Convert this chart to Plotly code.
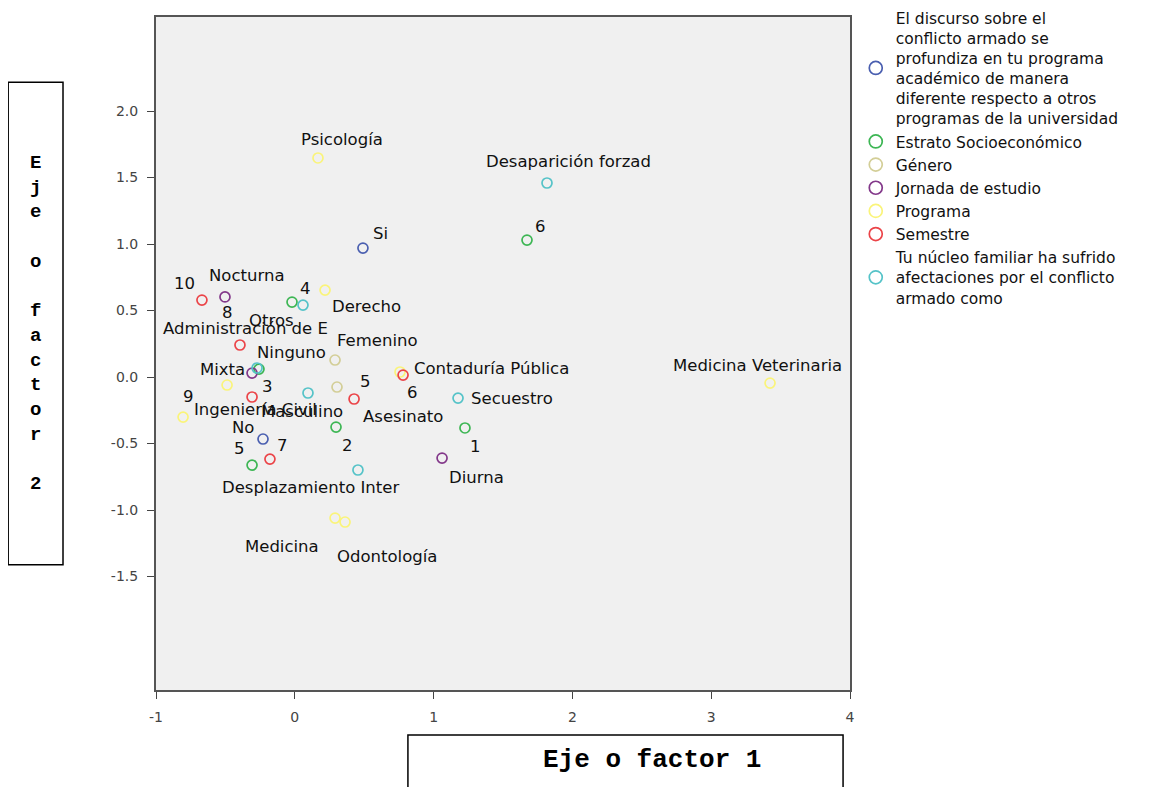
import plotly.graph_objects as go

# ---------------- data ----------------
discurso_labels = ["Si", "No"]
discurso_x = [0.491, -0.229]
discurso_y = [0.970, -0.466]

estrato_labels = ["1", "2", "3", "4", "5", "6"]
estrato_x = [1.226, 0.297, -0.258, -0.020, -0.308, 1.673]
estrato_y = [-0.383, -0.376, 0.060, 0.564, -0.662, 1.030]

genero_labels = ["Femenino", "Masculino"]
genero_x = [0.290, 0.304]
genero_y = [0.128, -0.075]

jornada_labels = ["Nocturna", "Diurna", "Mixta"]
jornada_x = [-0.503, 1.061, -0.308]
jornada_y = [0.602, -0.609, 0.030]

programa_labels = ["Psicología", "Derecho", "Administración de E", "Contaduría Pública",
                   "Ingeniería Civil", "Medicina", "Odontología", "Medicina Veterinaria"]
programa_x = [0.167, 0.218, -0.488, 0.758, -0.805, 0.290, 0.362, 3.424]
programa_y = [1.647, 0.654, -0.060, 0.038, -0.301, -1.060, -1.090, -0.045]

semestre_labels = ["10", "8", "9", "5", "6", "7"]
semestre_x = [-0.669, -0.395, -0.308, 0.427, 0.780, -0.179]
semestre_y = [0.579, 0.241, -0.150, -0.165, 0.015, -0.617]

nucleo_labels = ["Desaparición forzad", "Otros", "Ninguno", "Secuestro", "Asesinato",
                 "Desplazamiento Inter"]
nucleo_x = [1.817, 0.059, -0.272, 1.176, 0.095, 0.455]
nucleo_y = [1.459, 0.541, 0.068, -0.158, -0.120, -0.699]

series_names = [
    "El discurso sobre el<br>conflicto armado se<br>profundiza en tu programa<br>académico de manera<br>diferente respecto a otros<br>programas de la universidad",
    "Estrato Socioeconómico",
    "Género",
    "Jornada de estudio",
    "Programa",
    "Semestre",
    "Tu núcleo familiar ha sufrido<br>afectaciones por el conflicto<br>armado como",
]

x_ticks = [-1, 0, 1, 2, 3, 4]
x_ticktext = ["-1", "0", "1", "2", "3", "4"]
y_ticks = [-1.5, -1.0, -0.5, 0.0, 0.5, 1.0, 1.5, 2.0]
y_ticktext = ["-1.5", "-1.0", "-0.5", "0.0", "0.5", "1.0", "1.5", "2.0"]

x_title = "Eje o factor 1"
y_title = "Eje o factor 2"

# ---------------- styles ----------------
colors = ["#4A5FB0", "#3DB654", "#D3CE97", "#83388A", "#FAF47A", "#EB4448", "#55C3C8"]

# label offsets in pixels (dx, dy up)
label_offsets = {
    "Si": (18, 15), "No": (-20, 12),
    "e1": (11, -19), "e2": (11, -18), "e3": (9, -17), "e4": (13, 14), "e5": (-13, 17), "e6": (13, 14),
    "Femenino": (42, 20), "Masculino": (-35, -24),
    "Nocturna": (22, 21), "Diurna": (34, -19), "Mixta": (-30, 4),
    "Psicología": (24, 18), "Derecho": (41, -16), "Administración de E": (18, 57),
    "Contaduría Pública": (91, 3), "Ingeniería Civil": (72, 8), "Medicina": (-53, -28),
    "Odontología": (42, -34), "Medicina Veterinaria": (-13, 18),
    "s10": (-17, 17), "s8": (-12, 32), "s9": (-64, 0), "s5": (11, 17), "s6": (9, -17), "s7": (13, 14),
    "Desaparición forzad": (21, 21), "Otros": (-31, -15), "Ninguno": (34, 16),
    "Secuestro": (54, 0), "Asesinato": (95, -23), "Desplazamiento Inter": (-47, -17),
}

all_series = [
    (discurso_labels, discurso_x, discurso_y, ""),
    (estrato_labels, estrato_x, estrato_y, "e"),
    (genero_labels, genero_x, genero_y, ""),
    (jornada_labels, jornada_x, jornada_y, ""),
    (programa_labels, programa_x, programa_y, ""),
    (semestre_labels, semestre_x, semestre_y, "s"),
    (nucleo_labels, nucleo_x, nucleo_y, ""),
]

LABEL_FONT = dict(family="DejaVu Sans", size=16.5, color="#111111")

fig = go.Figure()
annotations = []
for i, (labs, xs, ys, pre) in enumerate(all_series):
    fig.add_trace(go.Scatter(
        x=xs, y=ys, mode="markers", showlegend=False, hoverinfo="text", text=labs,
        marker=dict(symbol="circle-open", size=10, color=colors[i], line=dict(width=1.7, color=colors[i])),
    ))
    for lab, xv, yv in zip(labs, xs, ys):
        dx, dy = label_offsets.get(pre + lab, (0, 15))
        annotations.append(dict(x=xv, y=yv, xref="x", yref="y", text=lab, showarrow=False,
                                xshift=dx, yshift=dy, font=LABEL_FONT))

# legend entries
for i, name in enumerate(series_names):
    fig.add_trace(go.Scatter(
        x=[None], y=[None], mode="markers", name=name, showlegend=True,
        marker=dict(symbol="circle-open", size=13, color=colors[i], line=dict(width=1.7, color=colors[i])),
    ))

# axis title boxes
vert_lines = ["" if ch == " " else ch for ch in y_title]
vert_text = "<b>" + "<br>".join(vert_lines) + "</b>"

annotations.append(dict(xref="paper", yref="paper", x=-0.1736, y=0.5446,
                        text=vert_text,
                        showarrow=False, font=dict(family="Liberation Mono", size=19, color="#000"),
                        xanchor="center", yanchor="middle"))
annotations.append(dict(xref="paper", yref="paper", x=0.715, y=-0.104, text="<b>" + x_title + "</b>",
                        showarrow=False, font=dict(family="Liberation Mono", size=26, color="#000"),
                        xanchor="center", yanchor="middle"))

shapes = [
    dict(type="rect", xref="paper", yref="paper", x0=-0.213, x1=-0.134, y0=0.186, y1=0.903,
         line=dict(color="#000", width=1.5)),
    dict(type="rect", xref="paper", yref="paper", x0=0.363, x1=0.990, y0=-0.16, y1=-0.0669,
         line=dict(color="#000", width=1.5)),
]

TICK_FONT = dict(family="DejaVu Sans", size=14, color="#444444")
fig.update_layout(
    width=1152, height=787,
    margin=dict(l=148, r=310, t=9, b=105, autoexpand=False),
    paper_bgcolor="white", plot_bgcolor="#F0F0F0",
    annotations=annotations, shapes=shapes,
    xaxis=dict(range=[-1, 4], tickvals=x_ticks, ticktext=x_ticktext, ticks="outside", ticklen=7,
               tickcolor="#444", ticklabelstandoff=6,
               showgrid=False, zeroline=False, showline=True, mirror=True, linecolor="#555",
               linewidth=2, tickfont=TICK_FONT),
    yaxis=dict(range=[-2.353, 2.707], tickvals=y_ticks, ticktext=y_ticktext, ticks="outside", ticklen=7,
               tickcolor="#444", ticklabelstandoff=6, showgrid=False, zeroline=False, showline=True,
               mirror=True, linecolor="#555", linewidth=2, tickfont=TICK_FONT),
    legend=dict(x=1.0083, y=1.0238, xanchor="left", yanchor="top", bgcolor="rgba(0,0,0,0)",
                font=dict(family="DejaVu Sans", size=15.5, color="#111"), itemwidth=30,
                tracegroupgap=0),
    showlegend=True,
)

fig.write_html("out.html")
